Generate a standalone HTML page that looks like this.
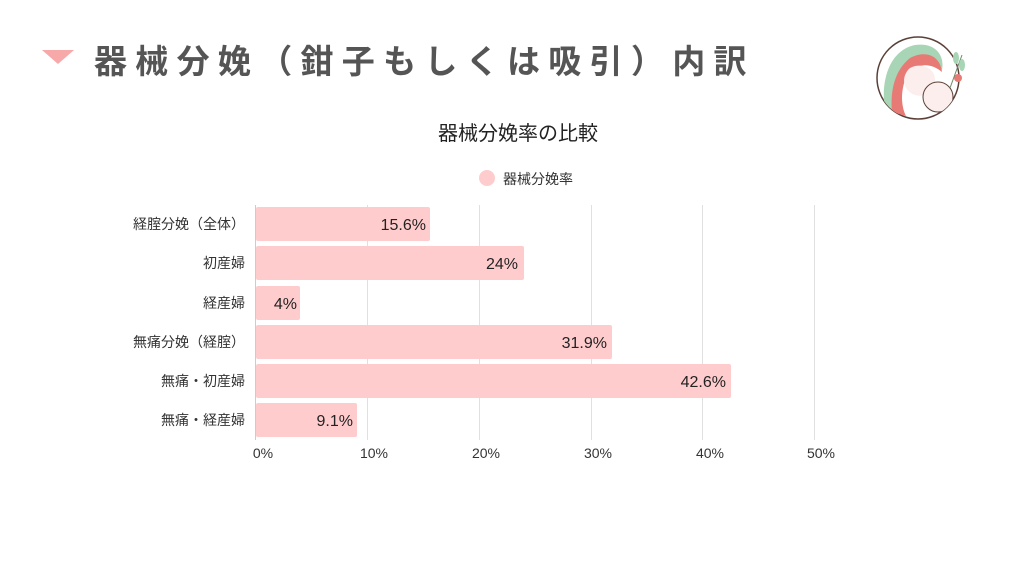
<!DOCTYPE html>
<html><head><meta charset="utf-8"><style>
body{margin:0;width:1024px;height:576px;background:#fff;position:relative;overflow:hidden;font-family:"Liberation Sans","Noto Sans CJK JP",sans-serif}
.t{position:absolute;white-space:nowrap}
</style></head><body>
<svg width="1024" height="576" style="position:absolute;left:0;top:0">
<polygon points="42,50 74,50 58,64" fill="#f7a8a8"/>
<!-- logo -->
<defs><clipPath id="c"><circle cx="918" cy="78" r="41"/></clipPath></defs>
<circle cx="918" cy="78" r="41" fill="#fff" stroke="#5a4038" stroke-width="1.5"/>
<g clip-path="url(#c)">
<path d="M885,110 C880,80 890,50 915,45 C935,42 945,55 942,70 C930,55 910,55 900,75 C895,90 900,105 905,115 Z" fill="#a8d5b5"/>
<path d="M892,112 C890,90 895,70 910,58 C925,50 940,55 942,72 C930,62 915,62 905,80 C900,95 902,108 906,116 Z" fill="#e77a74"/>
<path d="M908,70 C915,62 935,65 935,80 C935,92 925,98 915,95 C905,92 900,80 908,70 Z" fill="#fdeeee"/>
<circle cx="938" cy="97" r="15" fill="#fdeeee" stroke="#5a4038" stroke-width="1"/>
</g>
<circle cx="958" cy="78" r="4" fill="#e77a74"/>
<path d="M950,88 L962,55" stroke="#6a8a6a" stroke-width="1"/>
<ellipse cx="956" cy="58" rx="3" ry="6" fill="#a8d5b5"/><ellipse cx="962" cy="65" rx="3" ry="6" fill="#a8d5b5"/>
<!-- grid -->
<g stroke="#e0e0e0" stroke-width="1">
<line x1="367.5" y1="205" x2="367.5" y2="440"/><line x1="479.5" y1="205" x2="479.5" y2="440"/>
<line x1="591.5" y1="205" x2="591.5" y2="440"/><line x1="702.5" y1="205" x2="702.5" y2="440"/>
<line x1="814.5" y1="205" x2="814.5" y2="440"/></g>
<line x1="255.5" y1="205" x2="255.5" y2="440" stroke="#ccc"/>
<g fill="#ffcccd">
<rect x="256" y="207" width="174" height="34" rx="2"/>
<rect x="256" y="246" width="268" height="34" rx="2"/>
<rect x="256" y="286" width="44" height="34" rx="2"/>
<rect x="256" y="325" width="356" height="34" rx="2"/>
<rect x="256" y="364" width="475" height="34" rx="2"/>
<rect x="256" y="403" width="101" height="34" rx="2"/>
</g>
<circle cx="487" cy="178" r="8" fill="#ffcccd"/>
<g font-size="16" fill="#222" text-anchor="end" font-family="Liberation Sans,Noto Sans CJK JP,sans-serif">
<text x="426" y="230">15.6%</text><text x="518" y="269">24%</text><text x="297" y="309">4%</text>
<text x="607" y="348">31.9%</text><text x="726" y="387">42.6%</text><text x="353" y="426">9.1%</text>
</g>
<g font-size="14" fill="#333" text-anchor="end" font-family="Liberation Sans,Noto Sans CJK JP,sans-serif">
<text x="245" y="229">経腟分娩（全体）</text><text x="245" y="268">初産婦</text><text x="245" y="308">経産婦</text>
<text x="245" y="347">無痛分娩（経腟）</text><text x="245" y="386">無痛・初産婦</text><text x="245" y="425">無痛・経産婦</text>
</g>
<g font-size="14" fill="#333" text-anchor="middle" font-family="Liberation Sans,Noto Sans CJK JP,sans-serif">
<text x="263" y="458">0%</text><text x="374" y="458">10%</text><text x="486" y="458">20%</text>
<text x="598" y="458">30%</text><text x="710" y="458">40%</text><text x="821" y="458">50%</text>
</g>
</svg>
<div class="t" style="left:94px;top:35px;font-size:33px;font-weight:bold;color:#555;letter-spacing:8.3px">器械分娩（鉗子もしくは吸引）内訳</div>
<div class="t" style="left:438px;top:117px;font-size:20px;color:#222">器械分娩率の比較</div>
<div class="t" style="left:503px;top:169px;font-size:14px;color:#333">器械分娩率</div>
</body></html>
